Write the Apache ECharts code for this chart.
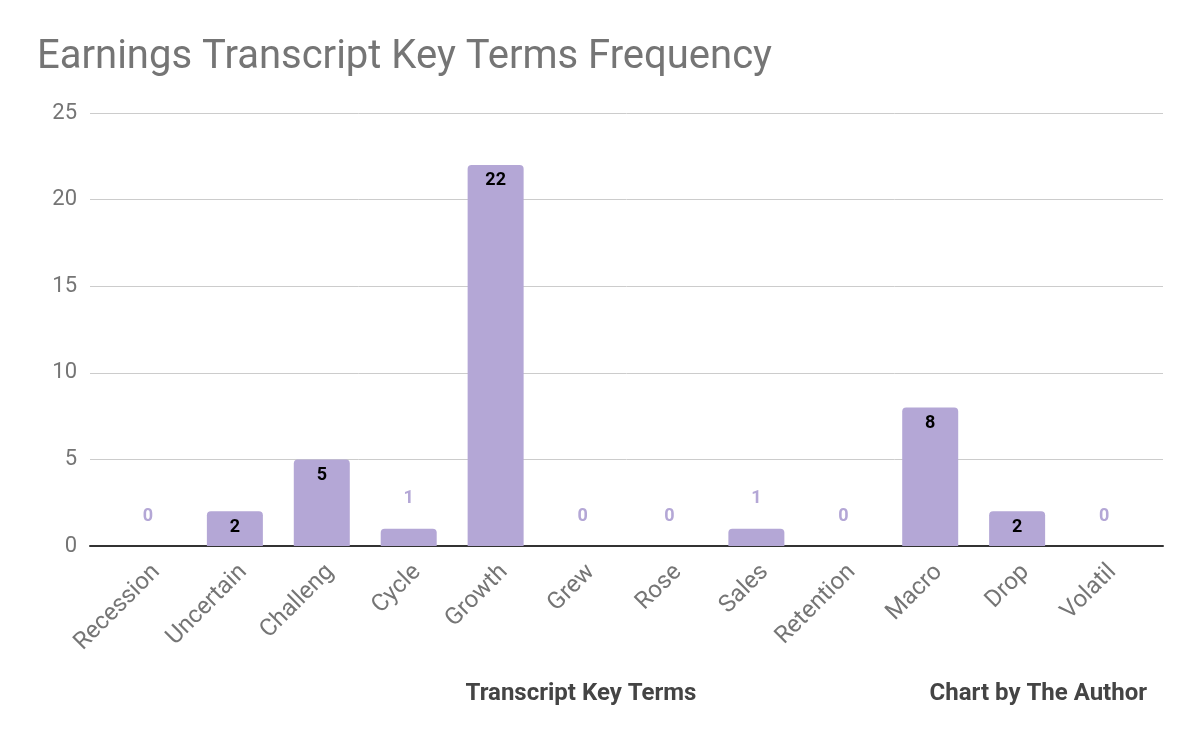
<!DOCTYPE html>
<html><head><meta charset="utf-8">
<script src="https://cdn.jsdelivr.net/npm/echarts@6/dist/echarts.min.js"></script>
<style>html,body{margin:0;padding:0;background:#fff}#c{width:1200px;height:741px}</style>
</head><body><div id="c"></div>
<script>
const categories = ['Recession','Uncertain','Challeng','Cycle','Growth','Grew','Rose','Sales','Retention','Macro','Drop','Volatil'];
const values = [0,2,5,1,22,0,0,1,0,8,2,0];
const yTicks = [0,5,10,15,20,25];
const titleText = 'Earnings Transcript Key Terms Frequency';
const xAxisTitle = 'Transcript Key Terms';
const creditText = 'Chart by The Author';

const barColor = '#b4a7d6';
const chart = echarts.init(document.getElementById('c'));
const insideThreshold = 2;
const barData = values.map(v => ({
  value: v,
  label: v >= insideThreshold
    ? {show:true, position:'insideTop', distance:7, color:'#000', fontWeight:'bold', fontSize:18}
    : {show:true, position:'top', distance:21, color:barColor, fontWeight:'bold', fontSize:18}
}));

chart.setOption({
  animation:false,
  textStyle:{fontFamily:'Roboto'},
  title:[
    {text:titleText, left:32, top:33, textStyle:{fontFamily:'Roboto', fontSize:40, fontWeight:'normal', color:'#757575'}},
    {text:xAxisTitle, left:576, top:677, textAlign:'center', textStyle:{fontFamily:'Roboto', fontSize:24, fontWeight:'bold', color:'#444'}},
    {text:creditText, right:48, top:677, textStyle:{fontFamily:'Roboto', fontSize:24, fontWeight:'bold', color:'#444'}}
  ],
  grid:[
    {left:90, right:37, top:113, bottom:195},
    {left:104.5, right:52.5, top:113, bottom:195}
  ],
  xAxis:[
    {gridIndex:0, type:'value', min:0, max:1, axisLine:{show:true, onZero:false, lineStyle:{color:'#333', width:2}}, axisTick:{show:false}, axisLabel:{show:false}, splitLine:{show:false}},
    {gridIndex:1, type:'category', data:categories, axisLine:{show:false}, axisTick:{show:false},
     axisLabel:{rotate:45, fontSize:24, color:'#757575', fontFamily:'Roboto', margin:14, interval:0, verticalAlign:'top'}}
  ],
  yAxis:[
    {gridIndex:0, type:'value', min:yTicks[0], max:yTicks[yTicks.length-1], interval:5,
     axisLine:{show:false}, axisTick:{show:false},
     axisLabel:{fontSize:22, color:'#757575', fontFamily:'Roboto', margin:13},
     splitLine:{lineStyle:{color:'#ccc', width:1}}},
    {gridIndex:1, type:'value', min:yTicks[0], max:yTicks[yTicks.length-1], interval:5, show:false, splitLine:{show:false}}
  ],
  series:[
    {type:'bar', xAxisIndex:1, yAxisIndex:1, data:barData, barWidth:56,
     itemStyle:{color:barColor, borderRadius:[4,4,0,0]}, z:3}
  ]
});
</script></body></html>
